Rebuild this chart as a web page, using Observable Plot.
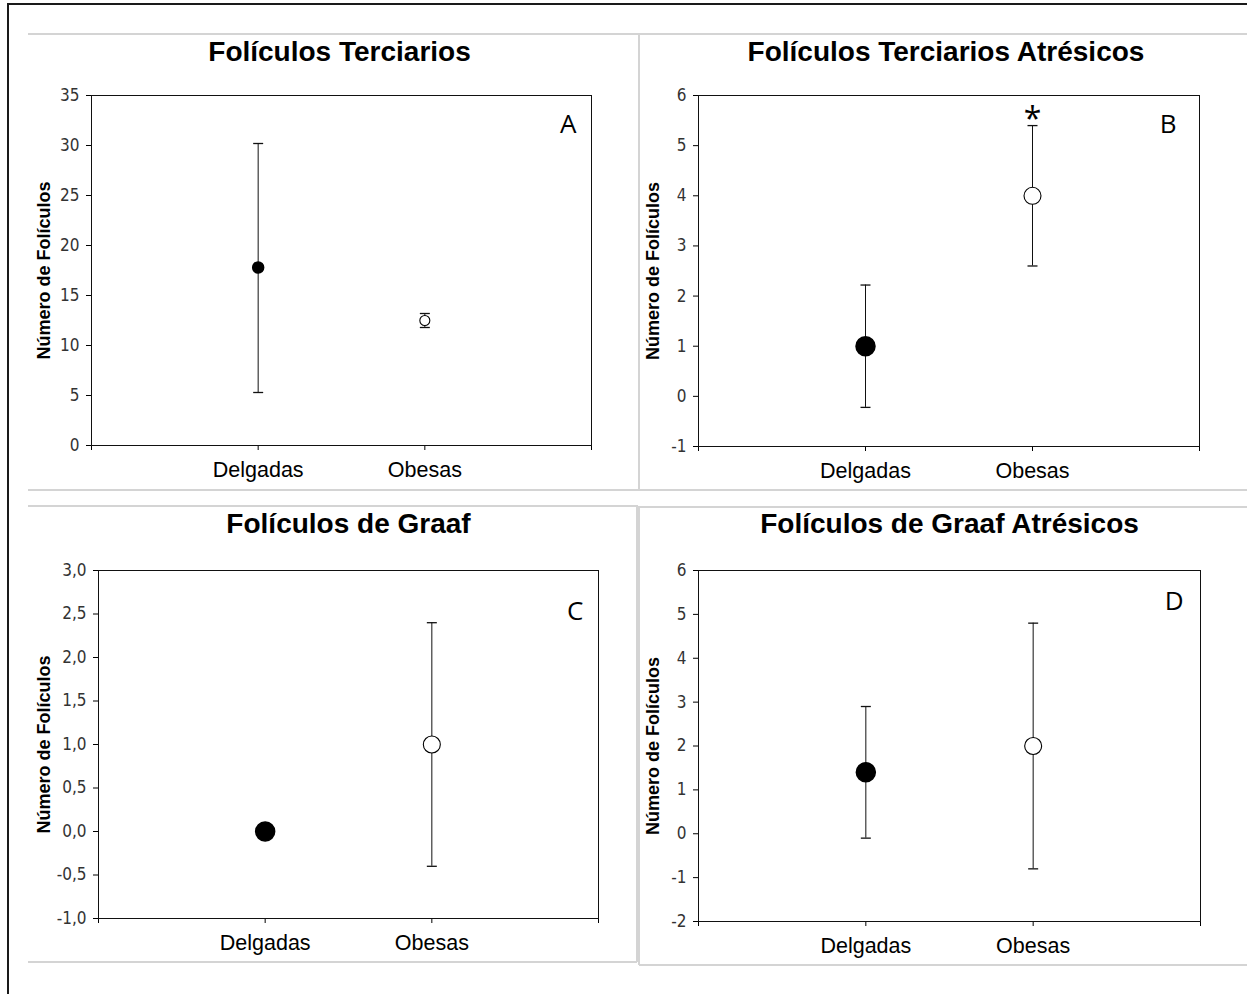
<!DOCTYPE html>
<html><head><meta charset="utf-8">
<script src="https://cdn.jsdelivr.net/npm/d3@7"></script>
<script src="https://cdn.jsdelivr.net/npm/@observablehq/plot@0.6"></script>
<style>
body{margin:0;background:#fff;}
#wrap{position:relative;width:1247px;height:994px;overflow:hidden;background:#fff;}
#outer{position:absolute;left:7px;top:3px;width:1300px;height:1100px;border-left:2px solid #1a1a1a;border-top:2px solid #1a1a1a;}
.ln{position:absolute;background:#d4d4d4;}
.panel{position:absolute;}
.panel svg{display:block;overflow:visible;}
</style></head><body><div id="wrap"><div id="outer"></div></div>
<script>
// ---- data ----
const groups = ["Delgadas", "Obesas"];
const groupX = [1, 2];
const xTicks = [0, 1, 2, 3];
const xTickLabels = ["", "Delgadas", "Obesas", ""];
const yLabel = "Número de Folículos";
const titles = ["Folículos Terciarios", "Folículos Terciarios Atrésicos", "Folículos de Graaf", "Folículos de Graaf Atrésicos"];
const letters = ["A", "B", "C", "D"];

const terciariosMean = [17.8, 12.5];
const terciariosLo = [5.3, 11.8];
const terciariosHi = [30.2, 13.2];

const terciariosAtrMean = [1.0, 4.0];
const terciariosAtrLo = [-0.22, 2.6];
const terciariosAtrHi = [2.22, 5.4];

const graafMean = [0.0, 1.0];
const graafLo = [0.0, -0.4];
const graafHi = [0.0, 2.4];

const graafAtrMean = [1.4, 2.0];
const graafAtrLo = [-0.1, -0.8];
const graafAtrHi = [2.9, 4.8];

const yTicksA = [0, 5, 10, 15, 20, 25, 30, 35];
const yTicksB = [-1, 0, 1, 2, 3, 4, 5, 6];
const yTicksC = [-1, -0.5, 0, 0.5, 1, 1.5, 2, 2.5, 3];
const yTicksD = [-2, -1, 0, 1, 2, 3, 4, 5, 6];
const significance = ["", "*"]; // panel B

// ---- decorative panel borders ----
const wrap = document.getElementById("wrap");
function line(x, y, w, h) {
  const d = document.createElement("div");
  d.className = "ln";
  Object.assign(d.style, {left: x + "px", top: y + "px", width: w + "px", height: h + "px"});
  wrap.appendChild(d);
}
line(28, 33, 1219, 2);
line(638, 33, 2, 457);
line(28, 489, 1219, 2);
line(28, 505, 609, 2);
line(636, 505, 2, 457);
line(28, 961, 609, 2);
line(639, 506, 608, 2);
line(638, 506, 2, 459);
line(639, 964, 608, 2);

const narrow = "'Liberation Sans Narrow','Arial Narrow','DejaVu Sans Condensed','Liberation Sans',sans-serif";
const sans = "'Liberation Sans',Arial,sans-serif";

function panel(c) {
  const rows = groups.map((g, i) => ({g, x: groupX[i], m: c.mean[i], lo: c.lo[i], hi: c.hi[i], filled: i === 0, star: c.star ? c.star[i] : ""}));
  const capSym = {draw(ctx) { ctx.moveTo(-c.capW, 0); ctx.lineTo(c.capW, 0); }};
  const marks = [
    Plot.axisY({ticks: c.ticks, tickSize: 5, tickPadding: 7, tickFormat: c.fmt, fontSize: 17, fontFamily: narrow, fill: "#333", label: null}),
    Plot.axisX({ticks: xTicks, tickSize: 5, tickPadding: 11, tickFormat: d => xTickLabels[d], fontSize: 21.5, fontFamily: sans, fill: "#000", label: null}),
    Plot.frame({stroke: "#111"}),
    Plot.ruleX(rows, {x: "x", y1: "lo", y2: "hi", stroke: "#111", strokeWidth: 1}),
    Plot.dot(rows, {x: "x", y: "lo", symbol: capSym, r: 5, stroke: "#111", fill: "none", strokeWidth: 1.3}),
    Plot.dot(rows, {x: "x", y: "hi", symbol: capSym, r: 5, stroke: "#111", fill: "none", strokeWidth: 1.3}),
    Plot.dot(rows.filter(d => d.filled), {x: "x", y: "m", r: c.rFill, fill: "#000", stroke: "#000"}),
    Plot.dot(rows.filter(d => !d.filled), {x: "x", y: "m", r: c.rOpen, fill: "#fff", stroke: "#000", strokeWidth: 1.1}),
    Plot.text([yLabel], {frameAnchor: "left", dx: c.labelDx, rotate: -90, textAnchor: "middle", lineAnchor: "middle", fontSize: 18, fontWeight: "bold", fontFamily: sans, fill: "#000"}),
    Plot.text([c.title], {frameAnchor: "top", dx: c.titleDx, dy: c.titleDy, lineAnchor: "middle", textAnchor: "middle", fontSize: 28, fontWeight: "bold", fontFamily: sans, fill: "#000"}),
    Plot.text([c.letter], {frameAnchor: "top-right", dx: c.letterDx, dy: c.letterDy, textAnchor: "end", lineAnchor: "bottom", fontSize: 26, fontFamily: "'Open Sans',sans-serif", fill: "#000"})
  ];
  if (c.star) marks.push(Plot.text(rows, {x: "x", y: "hi", text: "star", dy: -6, fontSize: 32, fontFamily: "'Open Sans',sans-serif", fill: "#000"}));
  const svg = Plot.plot({
    width: c.width, height: c.height,
    marginLeft: c.mL, marginRight: c.mR, marginTop: c.mT, marginBottom: c.mB,
    x: {domain: [0, 3]},
    y: {domain: c.domain},
    style: {fontFamily: sans, background: "transparent", color: "#000", overflow: "visible"},
    marks
  });
  const div = document.createElement("div");
  div.className = "panel";
  div.style.left = c.left + "px";
  div.style.top = c.top + "px";
  div.appendChild(svg);
  wrap.appendChild(div);
}

const intFmt = d => String(d);
const decFmt = d => d.toFixed(1).replace(".", ",");

panel({left: 28, top: 34, width: 611, height: 456, mL: 63, mR: 48, mT: 61, mB: 45,
  title: titles[0], titleDx: -2, titleDy: -43, letter: letters[0], letterDx: -15, letterDy: 37, labelDx: -47,
  mean: terciariosMean, lo: terciariosLo, hi: terciariosHi, domain: [0, 35], ticks: yTicksA, fmt: intFmt,
  rFill: 5.5, rOpen: 5, capW: 5});

panel({left: 639, top: 34, width: 608, height: 456, mL: 59, mR: 48, mT: 61, mB: 44,
  title: titles[1], titleDx: -3, titleDy: -43, letter: letters[1], letterDx: -23, letterDy: 37, labelDx: -45,
  mean: terciariosAtrMean, lo: terciariosAtrLo, hi: terciariosAtrHi, domain: [-1, 6], ticks: yTicksB, fmt: intFmt,
  rFill: 9.5, rOpen: 8.5, capW: 5, star: significance});

panel({left: 28, top: 506, width: 609, height: 456, mL: 70, mR: 39, mT: 64, mB: 44,
  title: titles[2], titleDx: 0, titleDy: -46, letter: letters[2], letterDx: -15, letterDy: 49, labelDx: -54,
  mean: graafMean, lo: graafLo, hi: graafHi, domain: [-1, 3], ticks: yTicksC, fmt: decFmt,
  rFill: 9.5, rOpen: 8.5, capW: 5});

panel({left: 639, top: 507, width: 608, height: 458, mL: 59, mR: 47, mT: 63, mB: 44,
  title: titles[3], titleDx: 0, titleDy: -46, letter: letters[3], letterDx: -17, letterDy: 39, labelDx: -45,
  mean: graafAtrMean, lo: graafAtrLo, hi: graafAtrHi, domain: [-2, 6], ticks: yTicksD, fmt: intFmt,
  rFill: 9.5, rOpen: 8.5, capW: 5});
</script></body></html>
